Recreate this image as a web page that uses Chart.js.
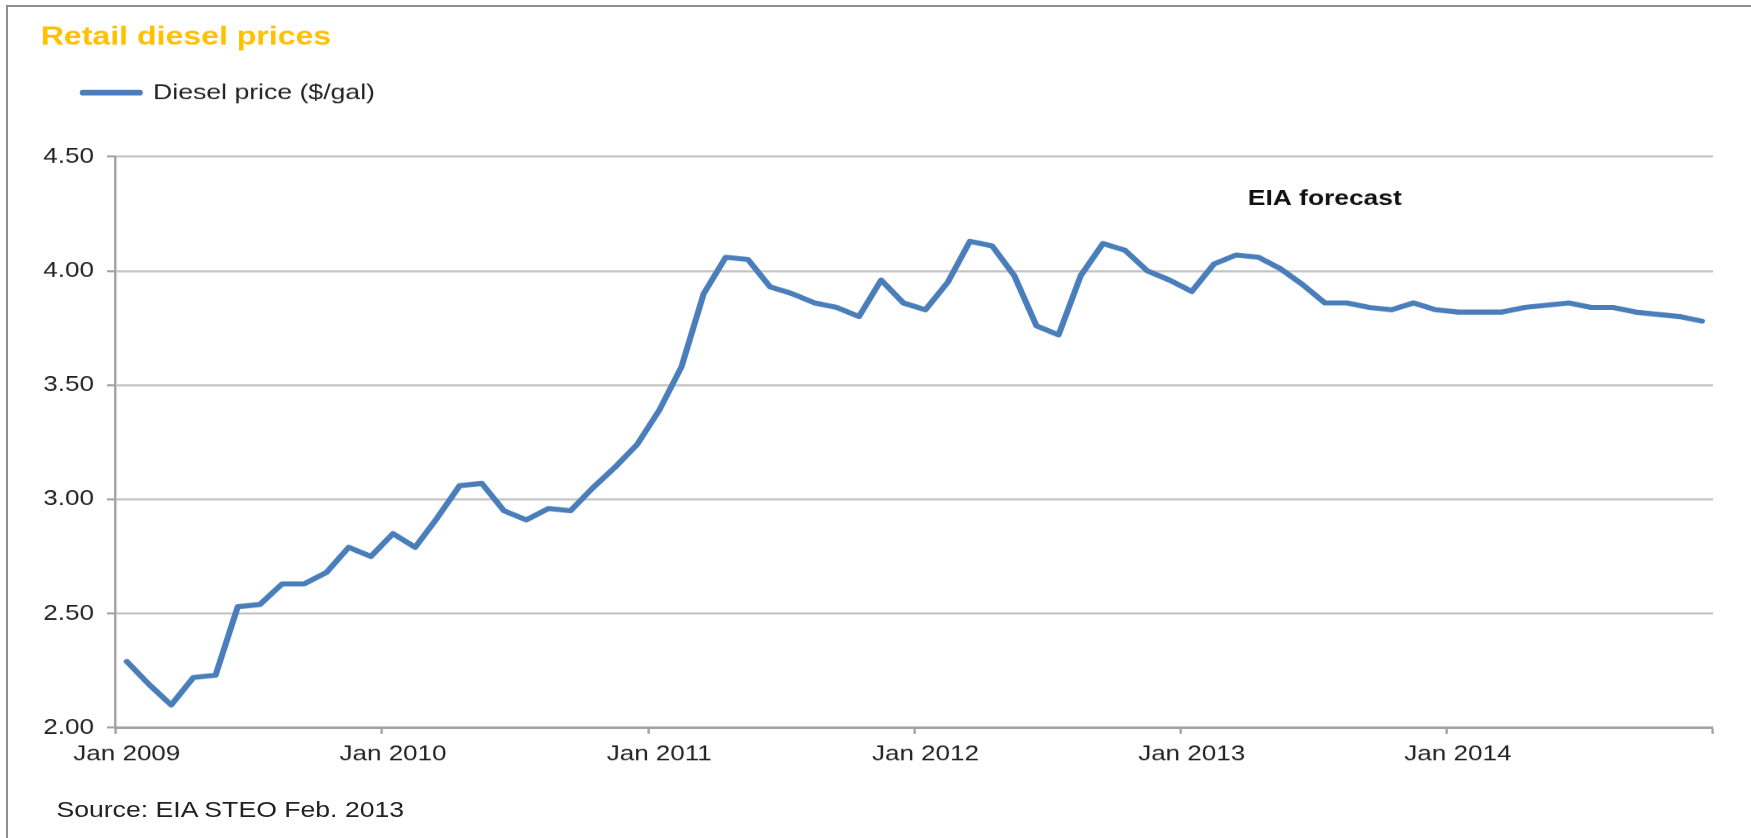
<!DOCTYPE html>
<html>
<head>
<meta charset="utf-8">
<title>Retail diesel prices</title>
<script src="https://cdn.jsdelivr.net/npm/chart.js@4.4.1/dist/chart.umd.min.js"></script>
<style>
  html, body { margin: 0; padding: 0; background: #ffffff; overflow: hidden; width: 1751px; height: 838px; }
  #frame { position: absolute; left: 6px; top: 5px; width: 1760px; height: 850px;
           border-left: 2px solid #8e8e8e; border-top: 2px solid #8e8e8e; }
  #stretch { position: absolute; left: 0; top: 0; width: 1447px; height: 838px;
             transform: scaleX(1.2101); transform-origin: 0 0; }
  #holder { position: absolute; left: 0; top: 0; width: 1447px; height: 838px; }
  #source { position: absolute; left: 46.6px; top: 797px; font-family: 'Liberation Sans', Arial, sans-serif;
            font-size: 22px; line-height: 26px; color: #222; white-space: nowrap; }
</style>
</head>
<body>
<div id="frame"></div>
<div id="stretch">
  <div id="holder"><canvas id="chart"></canvas></div>
  <div id="source"></div>
</div>
<script>
// ---- data ----
const TITLE = 'Retail diesel prices';
const SERIES_LABEL = 'Diesel price ($/gal)';
const SOURCE_NOTE = 'Source: EIA STEO Feb. 2013';
const MONTHS = ['Jan','Feb','Mar','Apr','May','Jun','Jul','Aug','Sep','Oct','Nov','Dec'];
const YEARS = [2009, 2010, 2011, 2012, 2013, 2014];
const CATEGORIES = YEARS.flatMap(y => MONTHS.map(m => m + ' ' + y));
const DIESEL_PRICE = [
  2.29, 2.19, 2.10, 2.22, 2.23, 2.53, 2.54, 2.63, 2.63, 2.68, 2.79, 2.75,   // 2009
  2.85, 2.79, 2.92, 3.06, 3.07, 2.95, 2.91, 2.96, 2.95, 3.05, 3.14, 3.24,   // 2010
  3.39, 3.58, 3.90, 4.06, 4.05, 3.93, 3.90, 3.86, 3.84, 3.80, 3.96, 3.86,   // 2011
  3.83, 3.95, 4.13, 4.11, 3.98, 3.76, 3.72, 3.98, 4.12, 4.09, 4.00, 3.96,   // 2012
  3.91, 4.03, 4.07, 4.06, 4.01, 3.94, 3.86, 3.86, 3.84, 3.83, 3.86, 3.83,   // 2013
  3.82, 3.82, 3.82, 3.84, 3.85, 3.86, 3.84, 3.84, 3.82, 3.81, 3.80, 3.78    // 2014
];
const Y_MIN = 2.0, Y_MAX = 4.5, Y_STEP = 0.5;
const FORECAST_NOTE = { text: 'EIA forecast', category: 'Jul 2013', value: 4.315 };

// ---- styles ----
const FONT = "'Liberation Sans', Arial, Helvetica, sans-serif";
const LINE_BLUE = '#4a7ebb';
const TEXT = '#222222';
const AXIS = '#a3a3a3';
const GRID = '#c4c4c4';

document.getElementById('source').textContent = SOURCE_NOTE;
Chart.defaults.font.family = FONT;

// spacer box between legend and plot area
const spacerPlugin = {
  id: 'spacer',
  beforeInit(chart) {
    Chart.layouts.addBox(chart, {
      id: 'spacerBox', position: 'top', weight: 100, fullSize: true, options: {},
      left: 0, top: 0, right: 0, bottom: 0, width: 0, height: 0,
      update(maxWidth) { this.width = maxWidth; this.height = 43; },
      isHorizontal() { return true; },
      draw() {}
    });
  }
};

const noteLabelPlugin = {
  id: 'noteLabel',
  afterDatasetsDraw(chart) {
    const { ctx, scales: { x, y } } = chart;
    ctx.save();
    ctx.font = 'bold 21.8px ' + FONT;
    ctx.fillStyle = '#111111';
    ctx.textAlign = 'center';
    ctx.textBaseline = 'middle';
    ctx.fillText(FORECAST_NOTE.text,
      x.getPixelForValue(CATEGORIES.indexOf(FORECAST_NOTE.category)),
      y.getPixelForValue(FORECAST_NOTE.value));
    ctx.restore();
  }
};

new Chart(document.getElementById('chart'), {
  type: 'line',
  data: {
    labels: CATEGORIES,
    datasets: [{
      label: SERIES_LABEL,
      data: DIESEL_PRICE,
      borderColor: LINE_BLUE,
      backgroundColor: LINE_BLUE,
      borderWidth: 5.1,
      borderJoinStyle: 'round',
      borderCapStyle: 'round',
      pointRadius: 0,
      pointHoverRadius: 0,
      tension: 0,
      fill: false
    }]
  },
  options: {
    responsive: true,
    maintainAspectRatio: false,
    devicePixelRatio: 1.2101,
    animation: false,
    events: [],
    layout: { padding: { left: 33.6, right: 31.4, top: 0, bottom: 63.7 } },
    plugins: {
      title: {
        display: true, text: TITLE, align: 'start', color: '#FFC000',
        font: { family: FONT, size: 26.5, weight: 'bold', lineHeight: 1 },
        padding: { top: 24.25, bottom: -3.9 }
      },
      legend: {
        display: true, position: 'top', align: 'start',
        labels: { boxWidth: 47, boxHeight: 0.5, padding: 34.85, color: TEXT,
                  font: { family: FONT, size: 22 } }
      },
      tooltip: { enabled: false }
    },
    scales: {
      x: {
        offset: true,
        ticks: {
          autoSkip: false, maxRotation: 0, minRotation: 0, padding: 7.4, color: TEXT,
          font: { family: FONT, size: 21.5 },
          callback: (v, i) => (i % 12 === 0 ? CATEGORIES[i] : '')
        },
        grid: {
          offset: true, drawOnChartArea: false, drawTicks: true, tickLength: 6, tickWidth: 2,
          tickColor: (ctx) => (ctx.index === undefined || ctx.index % 12 === 0) ? AXIS : 'rgba(0,0,0,0)'
        },
        border: { display: true, color: AXIS, width: 2.5 }
      },
      y: {
        min: Y_MIN, max: Y_MAX,
        afterFit(scale) { scale.width = 62; },
        ticks: {
          stepSize: Y_STEP, padding: 10.8, color: TEXT,
          font: { family: FONT, size: 21.5 },
          callback: (v) => Number(v).toFixed(2)
        },
        grid: { color: GRID, lineWidth: 2, drawTicks: true, tickLength: 7.2, tickColor: AXIS, tickWidth: 2 },
        border: { display: true, color: AXIS, width: 2 }
      }
    }
  },
  plugins: [spacerPlugin, noteLabelPlugin]
});
</script>
</body>
</html>
